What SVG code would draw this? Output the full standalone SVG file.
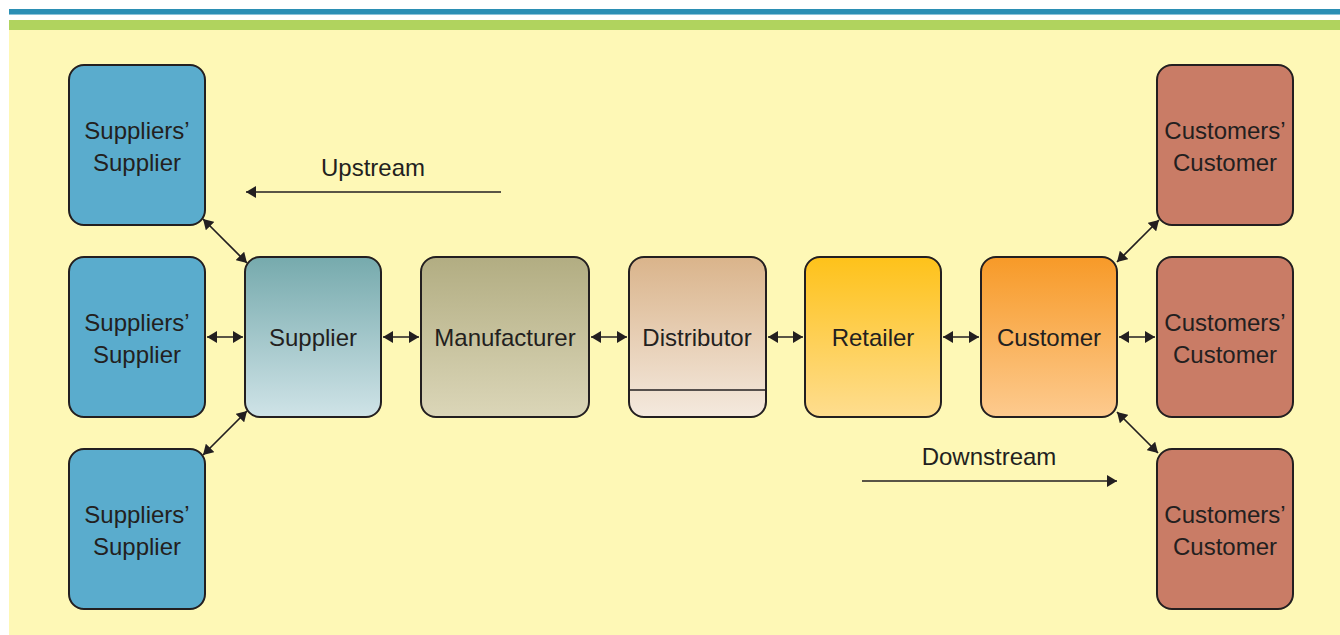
<svg xmlns="http://www.w3.org/2000/svg" width="1340" height="635" viewBox="0 0 1340 635">
  <style>
    .box { stroke: #231f20; stroke-width: 2; }
    .lbl { font-family: "Liberation Sans", Arial, sans-serif; font-size: 24px; fill: #231f20; text-anchor: middle; }
    .link { stroke: #231f20; stroke-width: 1.7; fill: none; }
    .both { marker-start: url(#head); marker-end: url(#head); }
    .one { marker-end: url(#head); }
    .src { fill: #5aaccd; }
    .dst { fill: #c97c66; }
  </style>
  <defs>
    <marker id="head" viewBox="0 0 10 12" refX="10" refY="6" markerWidth="10" markerHeight="12" markerUnits="userSpaceOnUse" orient="auto-start-reverse">
      <path d="M0,0 L10,6 L0,12 z" fill="#231f20"/>
    </marker>
    <linearGradient id="gSupplier" x1="0" y1="0" x2="0" y2="1">
      <stop offset="0" stop-color="#76aaad"/>
      <stop offset="1" stop-color="#cfe3e7"/>
    </linearGradient>
    <linearGradient id="gManufacturer" x1="0" y1="0" x2="0" y2="1">
      <stop offset="0" stop-color="#b2ad82"/>
      <stop offset="1" stop-color="#dbd6b8"/>
    </linearGradient>
    <linearGradient id="gDistributor" x1="0" y1="0" x2="0" y2="1">
      <stop offset="0" stop-color="#dab48b"/>
      <stop offset="1" stop-color="#f4e9de"/>
    </linearGradient>
    <linearGradient id="gRetailer" x1="0" y1="0" x2="0" y2="1">
      <stop offset="0" stop-color="#fec21a"/>
      <stop offset="1" stop-color="#fedd8f"/>
    </linearGradient>
    <linearGradient id="gCustomer" x1="0" y1="0" x2="0" y2="1">
      <stop offset="0" stop-color="#f79a28"/>
      <stop offset="1" stop-color="#fdca8e"/>
    </linearGradient>
  </defs>

  <!-- page background and header rules -->
  <rect x="0" y="0" width="1340" height="635" fill="#ffffff"/>
  <rect x="9" y="9" width="1331" height="5" fill="#2b8fb4"/>
  <rect x="9" y="14" width="1331" height="1" fill="#8cc3d8"/>
  <rect x="9" y="20" width="1331" height="10" fill="#b0d35e"/>
  <rect x="9" y="30" width="1331" height="605" fill="#fef8b6"/>

  <!-- flow direction labels -->
  <g id="upstream">
    <text class="lbl" x="373" y="176">Upstream</text>
    <line class="link one" x1="501" y1="192" x2="246" y2="192"/>
  </g>
  <g id="downstream">
    <text class="lbl" x="989" y="465">Downstream</text>
    <line class="link one" x1="862" y1="481" x2="1117" y2="481"/>
  </g>

  <!-- connectors -->
  <g id="connectors">
    <line class="link both" x1="207" y1="337" x2="243" y2="337"/>
    <line class="link both" x1="383" y1="337" x2="419" y2="337"/>
    <line class="link both" x1="591" y1="337" x2="627" y2="337"/>
    <line class="link both" x1="768" y1="337" x2="803" y2="337"/>
    <line class="link both" x1="943" y1="337" x2="979" y2="337"/>
    <line class="link both" x1="1119" y1="337" x2="1155" y2="337"/>
    <line class="link both" x1="203" y1="219" x2="247" y2="263"/>
    <line class="link both" x1="247" y1="411" x2="203" y2="455"/>
    <line class="link both" x1="1117" y1="262" x2="1159" y2="220"/>
    <line class="link both" x1="1117" y1="412" x2="1158" y2="453"/>
  </g>

  <!-- suppliers' suppliers -->
  <g id="suppliers-supplier-1">
    <rect class="box src" x="69" y="65" width="136" height="160" rx="15"/>
    <text class="lbl" x="137" y="139">Suppliers’</text>
    <text class="lbl" x="137" y="171">Supplier</text>
  </g>
  <g id="suppliers-supplier-2">
    <rect class="box src" x="69" y="257" width="136" height="160" rx="15"/>
    <text class="lbl" x="137" y="331">Suppliers’</text>
    <text class="lbl" x="137" y="363">Supplier</text>
  </g>
  <g id="suppliers-supplier-3">
    <rect class="box src" x="69" y="449" width="136" height="160" rx="15"/>
    <text class="lbl" x="137" y="523">Suppliers’</text>
    <text class="lbl" x="137" y="555">Supplier</text>
  </g>

  <!-- main chain -->
  <g id="supplier">
    <rect class="box" x="245" y="257" width="136" height="160" rx="15" fill="url(#gSupplier)"/>
    <text class="lbl" x="313" y="346">Supplier</text>
  </g>
  <g id="manufacturer">
    <rect class="box" x="421" y="257" width="168" height="160" rx="15" fill="url(#gManufacturer)"/>
    <text class="lbl" x="505" y="346">Manufacturer</text>
  </g>
  <g id="distributor">
    <rect class="box" x="629" y="257" width="137" height="160" rx="15" fill="url(#gDistributor)"/>
    <line x1="629" y1="390" x2="766" y2="390" stroke="#231f20" stroke-width="1.3"/>
    <text class="lbl" x="697" y="346">Distributor</text>
  </g>
  <g id="retailer">
    <rect class="box" x="805" y="257" width="136" height="160" rx="15" fill="url(#gRetailer)"/>
    <text class="lbl" x="873" y="346">Retailer</text>
  </g>
  <g id="customer">
    <rect class="box" x="981" y="257" width="136" height="160" rx="15" fill="url(#gCustomer)"/>
    <text class="lbl" x="1049" y="346">Customer</text>
  </g>

  <!-- customers' customers -->
  <g id="customers-customer-1">
    <rect class="box dst" x="1157" y="65" width="136" height="160" rx="15"/>
    <text class="lbl" x="1225" y="139">Customers’</text>
    <text class="lbl" x="1225" y="171">Customer</text>
  </g>
  <g id="customers-customer-2">
    <rect class="box dst" x="1157" y="257" width="136" height="160" rx="15"/>
    <text class="lbl" x="1225" y="331">Customers’</text>
    <text class="lbl" x="1225" y="363">Customer</text>
  </g>
  <g id="customers-customer-3">
    <rect class="box dst" x="1157" y="449" width="136" height="160" rx="15"/>
    <text class="lbl" x="1225" y="523">Customers’</text>
    <text class="lbl" x="1225" y="555">Customer</text>
  </g>
</svg>
